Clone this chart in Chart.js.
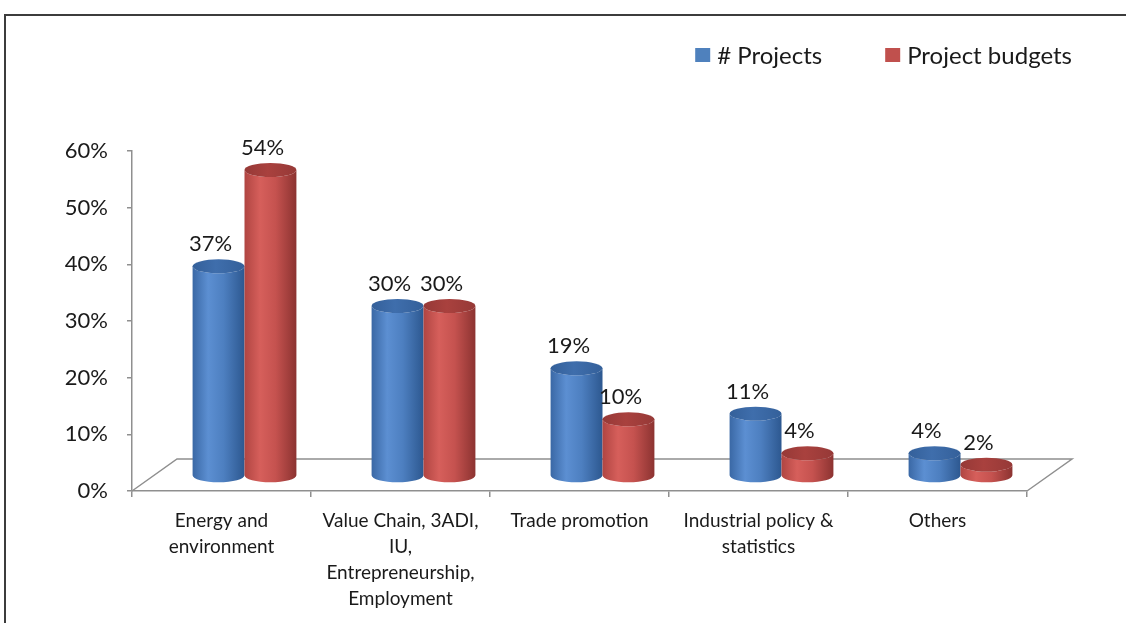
<!DOCTYPE html>
<html lang="en">
<head>
<meta charset="UTF-8">
<title>Projects and project budgets by area</title>
<script src="https://cdn.jsdelivr.net/npm/chart.js"></script>
<style>
  html, body { margin: 0; padding: 0; background: #fff; overflow: hidden; }
  /* frame drawn around the chart */
  #frame {
    position: absolute; left: 4px; top: 14px;
    width: 1140px; height: 640px;
    border: 2px solid #3c3c3c;
  }
  #chart-container { position: absolute; left: 0; top: 0; width: 1126px; height: 623px; }
</style>
</head>
<body>
<div id="frame"></div>
<div id="chart-container"><canvas id="areaChart"></canvas></div>
<script>
// data
const categories = [
  ['Energy and', 'environment'],
  ['Value Chain, 3ADI,', 'IU,', 'Entrepreneurship,', 'Employment'],
  ['Trade promotion'],
  ['Industrial policy &', 'statistics'],
  ['Others']
];
const seriesNames = ['# Projects', 'Project budgets'];
const projectShares = [37, 30, 19, 11, 4];
const budgetShares = [54, 30, 10, 4, 2];
const yMax = 60;
const yStep = 10;

const FONT = 'Lato, "Open Sans", sans-serif';
const TEXT = '#1a1a1a';
const AXIS = '#8f8f8f';

// cylinder shading per series
const palettes = [
  { base: '#4f81bd', stops: ['#3a68a5', '#5c8fd2', '#4d7fc0', '#2d5890'], top: '#3f6eac', rim: '#34609a' },
  { base: '#c0504d', stops: ['#b04542', '#d65f5b', '#c5524f', '#8c3331'], top: '#a9413e', rim: '#963937' }
];

// floor depth and the offset of the bars into it
const floorDX = 45, floorDY = -32;
const barDX = 23, barDY = -15;

function drawCylinder(ctx, cx, top, base, w, pal) {
  const rx = w / 2, ry = 7;
  const g = ctx.createLinearGradient(cx - rx, 0, cx + rx, 0);
  g.addColorStop(0, pal.stops[0]);
  g.addColorStop(0.3, pal.stops[1]);
  g.addColorStop(0.6, pal.stops[2]);
  g.addColorStop(1, pal.stops[3]);
  ctx.beginPath();
  ctx.moveTo(cx - rx, top);
  ctx.lineTo(cx - rx, base);
  ctx.ellipse(cx, base, rx, ry, 0, Math.PI, 0, true);
  ctx.lineTo(cx + rx, top);
  ctx.ellipse(cx, top, rx, ry, 0, 0, Math.PI, false);
  ctx.closePath();
  ctx.fillStyle = g;
  ctx.fill();

  const tg = ctx.createLinearGradient(cx - rx, 0, cx + rx, 0);
  tg.addColorStop(0, pal.rim);
  tg.addColorStop(0.45, pal.top);
  tg.addColorStop(1, pal.rim);
  ctx.beginPath();
  ctx.ellipse(cx, top, rx, ry, 0, 0, Math.PI * 2);
  ctx.fillStyle = tg;
  ctx.fill();
}

const cylinderPlugin = {
  id: 'cylinders',
  beforeDatasetsDraw(chart) {
    const ctx = chart.ctx;
    const xs = chart.scales.x, ys = chart.scales.y;
    const y0 = ys.getPixelForValue(0);

    // floor outline
    ctx.save();
    ctx.strokeStyle = AXIS;
    ctx.lineWidth = 1.5;
    ctx.beginPath();
    ctx.moveTo(xs.left, y0);
    ctx.lineTo(xs.left + floorDX, y0 + floorDY);
    ctx.lineTo(xs.right + floorDX, y0 + floorDY);
    ctx.lineTo(xs.right, y0);
    ctx.stroke();

    // bars as cylinders, then the value labels
    const labels = [];
    chart.data.datasets.forEach((ds, di) => {
      const meta = chart.getDatasetMeta(di);
      meta.data.forEach((el, i) => {
        const p = el.getProps(['x', 'y', 'base', 'width'], true);
        const cx = p.x + barDX;
        const top = p.y + barDY;
        drawCylinder(ctx, cx, top, p.base + barDY, p.width, palettes[di]);
        labels.push({ x: cx - 8, y: top - 22, text: ds.data[i] + '%' });
      });
    });
    ctx.font = '22px ' + FONT;
    ctx.fillStyle = TEXT;
    ctx.textAlign = 'center';
    ctx.textBaseline = 'middle';
    labels.forEach(l => ctx.fillText(l.text, l.x, l.y));
    ctx.restore();
    return false;
  },
  afterDraw(chart) {
    // legend, right aligned at the top
    const ctx = chart.ctx;
    ctx.save();
    ctx.font = '24px ' + FONT;
    ctx.textBaseline = 'middle';
    ctx.textAlign = 'left';
    const items = chart.data.datasets.map((ds, i) => ({ text: ds.label, color: palettes[i].base }));
    const box = 15, gap = 7, spacing = 63, cy = 55;
    let total = 0;
    items.forEach((it, i) => {
      it.w = box + gap + ctx.measureText(it.text).width;
      total += it.w + (i ? spacing : 0);
    });
    let x = chart.width - 54 - total;
    items.forEach(it => {
      ctx.fillStyle = it.color;
      ctx.fillRect(x, cy - 7, box, 14);
      ctx.fillStyle = TEXT;
      ctx.fillText(it.text, x + box + gap, cy + 1);
      x += it.w + spacing;
    });
    ctx.restore();
  }
};

new Chart(document.getElementById('areaChart'), {
  type: 'bar',
  data: {
    labels: categories,
    datasets: [
      { label: seriesNames[0], data: projectShares, backgroundColor: palettes[0].base },
      { label: seriesNames[1], data: budgetShares, backgroundColor: palettes[1].base }
    ]
  },
  options: {
    responsive: true,
    maintainAspectRatio: false,
    animation: false,
    categoryPercentage: 0.58,
    barPercentage: 1,
    layout: { padding: { top: 151, right: 99, left: 0, bottom: 0 } },
    plugins: {
      legend: { display: false },
      tooltip: { enabled: false }
    },
    scales: {
      x: {
        afterFit(scale) { scale.height = 132; },
        grid: { drawOnChartArea: false, offset: true, tickLength: 6, color: AXIS, lineWidth: 1.5 },
        border: { color: AXIS, width: 1.5 },
        ticks: {
          color: TEXT, padding: 11, maxRotation: 0, autoSkip: false,
          font: { family: FONT, size: 19, lineHeight: 1.37 }
        }
      },
      y: {
        min: 0,
        max: yMax,
        afterFit(scale) { scale.width = 132; },
        grid: { drawOnChartArea: false, tickLength: 5, color: AXIS, lineWidth: 1.5 },
        border: { color: AXIS, width: 1.5 },
        ticks: {
          stepSize: yStep, color: TEXT, padding: 19,
          font: { family: FONT, size: 22 },
          callback: v => v + '%'
        }
      }
    }
  },
  plugins: [cylinderPlugin]
});
</script>
</body>
</html>
